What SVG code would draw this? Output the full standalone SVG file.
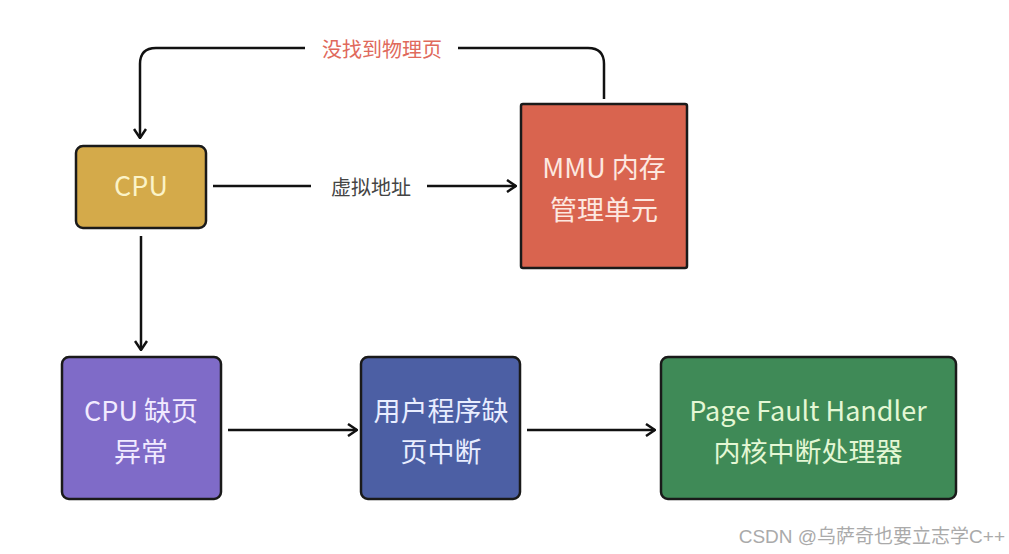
<svg xmlns="http://www.w3.org/2000/svg" width="1009" height="554" viewBox="0 0 1009 554">
<style>
.box{stroke:#1a1a1a;stroke-width:2.5}
.t{font-family:"Noto Sans CJK SC","Noto Sans",sans-serif;font-size:27px;text-anchor:middle}
.lbl{font-family:"Noto Sans CJK SC","Noto Sans",sans-serif;font-size:20px;text-anchor:middle}
.c{fill:none;stroke:#111;stroke-width:2.5}
</style>
<defs>
<marker id="ah" viewBox="0 0 12 14" refX="11" refY="7" markerWidth="12" markerHeight="14" markerUnits="userSpaceOnUse" orient="auto">
<polyline points="2,1 11,7 2,13" fill="none" stroke="#111" stroke-width="2.5"/>
</marker>
</defs>
<rect width="1009" height="554" fill="#fff"/>
<g id="connectors">
<path class="c" d="M604,99 V64 Q604,48 588,48 H458 M305,48 H156 Q140,48 140,64 V138" marker-end="url(#ah)"/>
<path class="c" d="M213,186 H311 M427,186 H516" marker-end="url(#ah)"/>
<path class="c" d="M141,236 V350" marker-end="url(#ah)"/>
<path class="c" d="M228,430 H357" marker-end="url(#ah)"/>
<path class="c" d="M527,430 H655" marker-end="url(#ah)"/>
<text class="lbl" x="382" y="57" fill="#e06a5c">没找到物理页</text>
<text class="lbl" x="371" y="195" fill="#444">虚拟地址</text>
</g>
<g id="cpu">
<rect class="box" x="76" y="146" width="130" height="82" rx="7" fill="#d4aa4a"/>
<text class="t" x="141" y="196" fill="#fbf3c8">CPU</text>
</g>
<g id="mmu">
<rect class="box" x="521" y="104" width="166" height="164" rx="2" fill="#d9644f"/>
<text class="t" x="604" y="178" fill="#fde8e0">MMU 内存</text>
<text class="t" x="604" y="220" fill="#fde8e0">管理单元</text>
</g>
<g id="cpu-fault">
<rect class="box" x="62" y="357" width="159" height="142" rx="7" fill="#7f6bc8"/>
<text class="t" x="141" y="421" fill="#f1eaff">CPU 缺页</text>
<text class="t" x="141" y="462" fill="#f1eaff">异常</text>
</g>
<g id="user-fault">
<rect class="box" x="361" y="357" width="159" height="142" rx="7" fill="#4c5fa4"/>
<text class="t" x="441" y="421" fill="#e8edff">用户程序缺</text>
<text class="t" x="441" y="462" fill="#e8edff">页中断</text>
</g>
<g id="handler">
<rect class="box" x="661" y="357" width="295" height="142" rx="7" fill="#3f8a57"/>
<text class="t" x="808" y="421" fill="#e4f7d4">Page Fault Handler</text>
<text class="t" x="808" y="462" fill="#e4f7d4">内核中断处理器</text>
</g>
<text x="1005" y="543" font-family="'Liberation Sans','Noto Sans CJK SC',sans-serif" font-size="19" fill="#aaa" text-anchor="end">CSDN @乌萨奇也要立志学C++</text>
</svg>
